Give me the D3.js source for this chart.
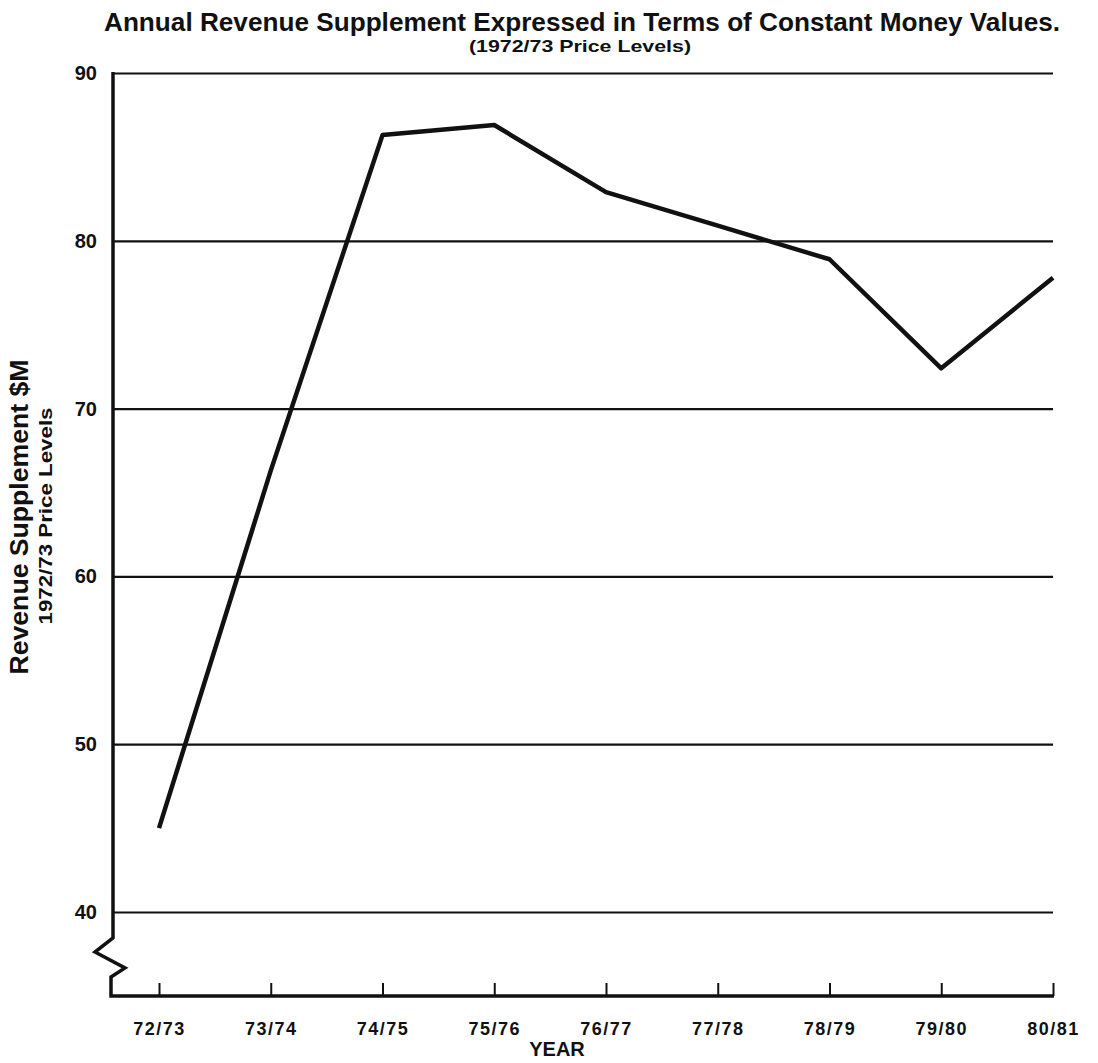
<!DOCTYPE html>
<html>
<head>
<meta charset="utf-8">
<title>Annual Revenue Supplement</title>
<script src="https://cdn.jsdelivr.net/npm/d3@7/dist/d3.min.js"></script>
<style>
  html, body { margin: 0; padding: 0; background: #fff; }
  svg { display: block; font-family: 'Liberation Sans', Arial, Helvetica, sans-serif; }
  .axis text { font-weight: bold; fill: #111; }
  .axis .domain { display: none; }
</style>
</head>
<body>
<div id="chart"></div>
<script>
const years = ['72/73', '73/74', '74/75', '75/76', '76/77', '77/78', '78/79', '79/80', '80/81'];
const revenue = [45, 66.3, 86.3, 86.9, 82.9, 80.9, 78.9, 72.4, 77.8];
const yTicks = [40, 50, 60, 70, 80, 90];

const title = 'Annual Revenue Supplement Expressed in Terms of Constant Money Values.';
const subtitle = '(1972/73 Price Levels)';
const yLabel = 'Revenue Supplement $M';
const yLabel2 = '1972/73 Price Levels';
const xLabel = 'YEAR';

const width = 1098;
const height = 1063;
const plot = { left: 113, right: 1053, top: 73, bottom: 996 };

const x = d3.scalePoint().domain(years).range([159, plot.right]);
const y = d3.scaleLinear().domain([40, 90]).range([912, plot.top]);

const svg = d3.select('#chart').append('svg')
  .attr('width', width)
  .attr('height', height)
  .attr('viewBox', `0 0 ${width} ${height}`);

/* 标题 */
svg.append('text')
  .attr('x', 582)
  .attr('y', 31)
  .attr('text-anchor', 'middle')
  .attr('textLength', 956)
  .attr('lengthAdjust', 'spacingAndGlyphs')
  .style('font-size', '26px')
  .style('font-weight', 'bold')
  .style('fill', '#111')
  .text(title);
svg.append('text')
  .attr('x', 580)
  .attr('y', 52)
  .attr('text-anchor', 'middle')
  .attr('textLength', 222)
  .attr('lengthAdjust', 'spacingAndGlyphs')
  .style('font-size', '17px')
  .style('font-weight', 'bold')
  .style('fill', '#111')
  .text(subtitle);

/* 网格线 + y轴 */
const yAxis = d3.axisLeft(y)
  .tickValues(yTicks)
  .tickSizeInner(-(plot.right - plot.left))
  .tickSizeOuter(0)
  .tickPadding(16);
const yGroup = svg.append('g')
  .attr('class', 'y axis')
  .attr('transform', `translate(${plot.left}, 0)`)
  .call(yAxis);
yGroup.selectAll('.tick line')
  .attr('stroke', '#111')
  .attr('stroke-width', 2.2);
yGroup.selectAll('.tick text')
  .style('font-size', '20px');

/* y轴竖线带折断号 */
const breakY = y(40) + 26;
const L = plot.left;
svg.append('path')
  .attr('d', `M${L},${plot.top - 1}V${breakY}L${L - 18},${breakY + 14}L${L + 12},${breakY + 30}L${L - 2},${breakY + 39}V${plot.bottom}H${plot.right + 1}`)
  .attr('fill', 'none')
  .attr('stroke', '#111')
  .attr('stroke-width', 3.5)
  .attr('stroke-linejoin', 'miter');

/* x轴刻度 */
const xAxis = d3.axisBottom(x)
  .tickSizeInner(-13)
  .tickSizeOuter(0)
  .tickPadding(26);
const xGroup = svg.append('g')
  .attr('class', 'x axis')
  .attr('transform', `translate(0, ${plot.bottom})`)
  .call(xAxis);
xGroup.selectAll('.tick line')
  .attr('stroke', '#111')
  .attr('stroke-width', 2);
xGroup.selectAll('.tick text')
  .style('font-size', '18px')
  .style('letter-spacing', '1.5px');

/* 折线 */
const line = d3.line()
  .x((d, i) => x(years[i]))
  .y(d => y(d));
svg.append('path')
  .datum(revenue)
  .attr('d', line)
  .attr('fill', 'none')
  .attr('stroke', '#111')
  .attr('stroke-width', 4.5)
  .attr('stroke-linejoin', 'round');

/* 轴标题 */
svg.append('text')
  .attr('x', 557)
  .attr('y', 1056)
  .attr('text-anchor', 'middle')
  .style('font-size', '20px')
  .style('font-weight', 'bold')
  .style('fill', '#111')
  .text(xLabel);
svg.append('text')
  .attr('transform', 'translate(28, 517) rotate(-90)')
  .attr('text-anchor', 'middle')
  .attr('textLength', 315)
  .attr('lengthAdjust', 'spacingAndGlyphs')
  .style('font-size', '25px')
  .style('font-weight', 'bold')
  .style('fill', '#111')
  .text(yLabel);
svg.append('text')
  .attr('transform', 'translate(52, 516) rotate(-90)')
  .attr('text-anchor', 'middle')
  .attr('textLength', 217)
  .attr('lengthAdjust', 'spacingAndGlyphs')
  .style('font-size', '18px')
  .style('font-weight', 'bold')
  .style('fill', '#111')
  .text(yLabel2);
</script>
</body>
</html>
